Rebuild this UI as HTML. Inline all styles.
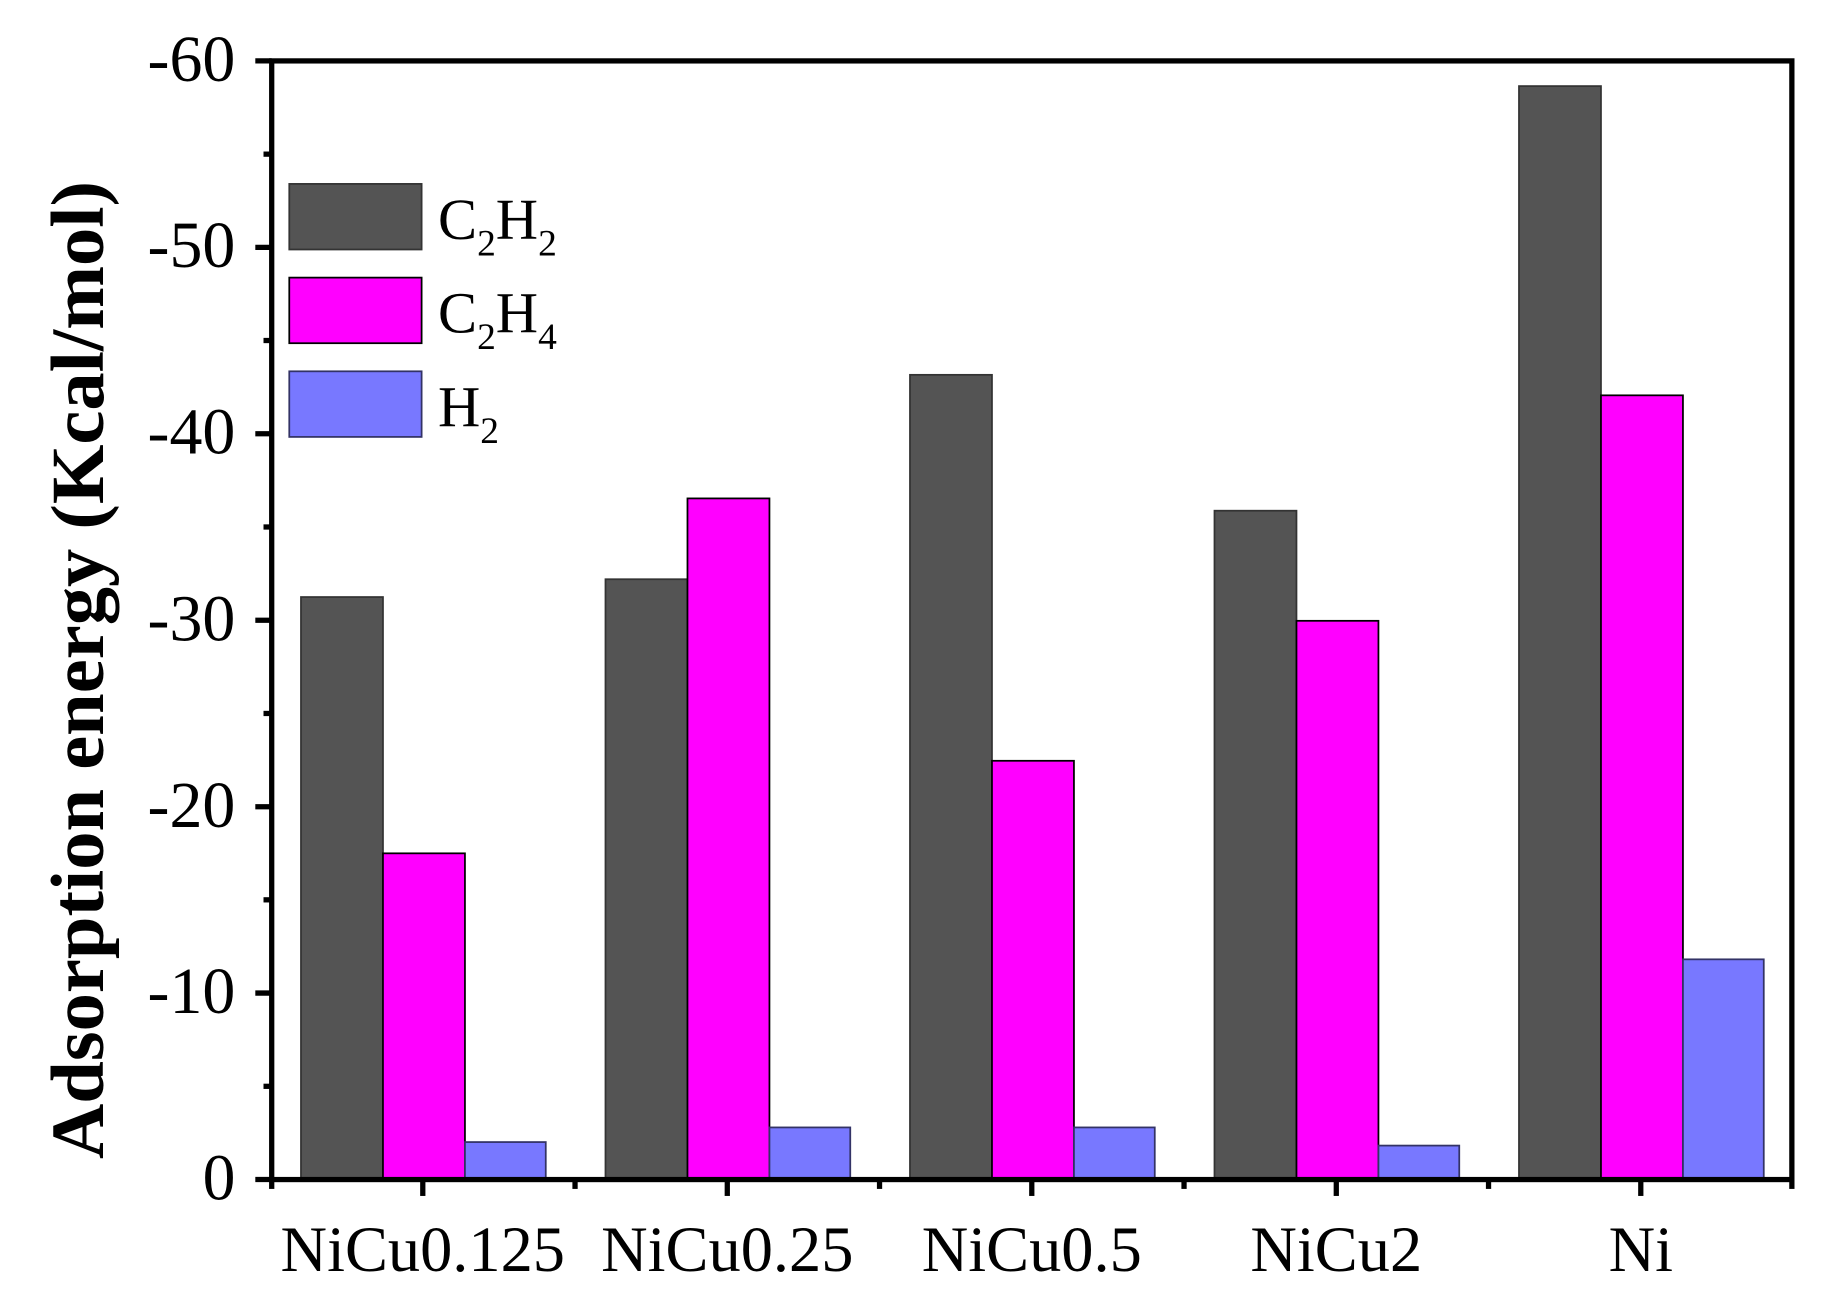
<!DOCTYPE html>
<html><head><meta charset="utf-8"><style>
html,body{margin:0;padding:0;background:#fff}
svg{display:block}
text{font-family:"Liberation Serif",serif;fill:#000}
</style></head><body>
<svg width="1827" height="1292" viewBox="0 0 1560 1103" preserveAspectRatio="none" xmlns="http://www.w3.org/2000/svg">
<rect width="1560" height="1103" fill="#fff"/>
<g stroke-width="1.5">
<rect x="257" y="509.7" width="70" height="497.3" fill="#545454" stroke="#333"/>
<rect x="327" y="728.5" width="70" height="278.5" fill="#ff00ff" stroke="#000"/>
<rect x="397" y="975" width="69" height="32" fill="#7878ff" stroke="#333366"/>
<rect x="517" y="494.5" width="70" height="512.5" fill="#545454" stroke="#333"/>
<rect x="587" y="425.5" width="70" height="581.5" fill="#ff00ff" stroke="#000"/>
<rect x="657" y="962.5" width="69" height="44.5" fill="#7878ff" stroke="#333366"/>
<rect x="777" y="320" width="70" height="687" fill="#545454" stroke="#333"/>
<rect x="847" y="649.5" width="70" height="357.5" fill="#ff00ff" stroke="#000"/>
<rect x="917" y="962.5" width="69" height="44.5" fill="#7878ff" stroke="#333366"/>
<rect x="1037" y="436" width="70" height="571" fill="#545454" stroke="#333"/>
<rect x="1107" y="530" width="70" height="477" fill="#ff00ff" stroke="#000"/>
<rect x="1177" y="978" width="69" height="29" fill="#7878ff" stroke="#333366"/>
<rect x="1297" y="73.5" width="70" height="933.5" fill="#545454" stroke="#333"/>
<rect x="1367" y="337.5" width="70" height="669.5" fill="#ff00ff" stroke="#000"/>
<rect x="1437" y="819" width="69" height="188" fill="#7878ff" stroke="#333366"/>
</g>
<rect x="232" y="52" width="1298" height="955" fill="none" stroke="#000" stroke-width="4.5"/>
<g stroke="#000" stroke-width="4.5">
<line x1="218" y1="52" x2="232" y2="52"/>
<line x1="218" y1="211.2" x2="232" y2="211.2"/>
<line x1="218" y1="370.3" x2="232" y2="370.3"/>
<line x1="218" y1="529.5" x2="232" y2="529.5"/>
<line x1="218" y1="688.7" x2="232" y2="688.7"/>
<line x1="218" y1="847.8" x2="232" y2="847.8"/>
<line x1="218" y1="1007" x2="232" y2="1007"/>
<line x1="225" y1="131.6" x2="232" y2="131.6"/>
<line x1="225" y1="290.7" x2="232" y2="290.7"/>
<line x1="225" y1="449.9" x2="232" y2="449.9"/>
<line x1="225" y1="609.1" x2="232" y2="609.1"/>
<line x1="225" y1="768.2" x2="232" y2="768.2"/>
<line x1="225" y1="927.4" x2="232" y2="927.4"/>
<line x1="361" y1="1007" x2="361" y2="1021"/>
<line x1="621" y1="1007" x2="621" y2="1021"/>
<line x1="881" y1="1007" x2="881" y2="1021"/>
<line x1="1141" y1="1007" x2="1141" y2="1021"/>
<line x1="1401" y1="1007" x2="1401" y2="1021"/>
<line x1="232" y1="1007" x2="232" y2="1015"/>
<line x1="491" y1="1007" x2="491" y2="1015"/>
<line x1="751" y1="1007" x2="751" y2="1015"/>
<line x1="1011" y1="1007" x2="1011" y2="1015"/>
<line x1="1271" y1="1007" x2="1271" y2="1015"/>
<line x1="1530" y1="1007" x2="1530" y2="1015"/>
</g>
<g font-size="56" text-anchor="end">
<text x="201" y="69" textLength="75" lengthAdjust="spacingAndGlyphs">-60</text>
<text x="201" y="228" textLength="75" lengthAdjust="spacingAndGlyphs">-50</text>
<text x="201" y="387" textLength="75" lengthAdjust="spacingAndGlyphs">-40</text>
<text x="201" y="547" textLength="75" lengthAdjust="spacingAndGlyphs">-30</text>
<text x="201" y="706" textLength="75" lengthAdjust="spacingAndGlyphs">-20</text>
<text x="201" y="865" textLength="75" lengthAdjust="spacingAndGlyphs">-10</text>
<text x="201" y="1024">0</text>
</g>
<g font-size="55" text-anchor="middle">
<text x="361" y="1085">NiCu0.125</text>
<text x="621" y="1085">NiCu0.25</text>
<text x="881" y="1085">NiCu0.5</text>
<text x="1141" y="1085">NiCu2</text>
<text x="1401" y="1085">Ni</text>
</g>
<text transform="translate(88,572) rotate(-90)" font-size="64" font-weight="bold" text-anchor="middle" textLength="835" lengthAdjust="spacingAndGlyphs">Adsorption energy (Kcal/mol)</text>
<rect x="247" y="157" width="113" height="56" fill="#545454" stroke="#333" stroke-width="1.5"/>
<rect x="247" y="237" width="113" height="56" fill="#ff00ff" stroke="#000" stroke-width="1.5"/>
<rect x="247" y="317" width="113" height="56" fill="#7878ff" stroke="#333366" stroke-width="1.5"/>
<g font-size="50">
<text x="374" y="204">C<tspan font-size="32" dy="14">2</tspan><tspan dy="-14">H</tspan><tspan font-size="32" dy="14">2</tspan></text>
<text x="374" y="284">C<tspan font-size="32" dy="14">2</tspan><tspan dy="-14">H</tspan><tspan font-size="32" dy="14">4</tspan></text>
<text x="374" y="364">H<tspan font-size="32" dy="14">2</tspan></text>
</g>
</svg>
</body></html>
